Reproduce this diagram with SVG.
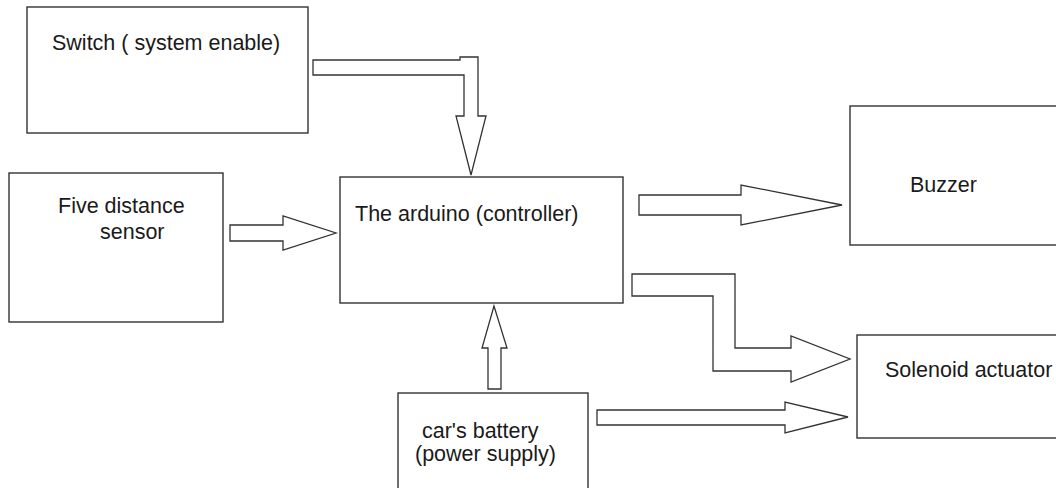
<svg xmlns="http://www.w3.org/2000/svg" width="1056" height="488" viewBox="0 0 1056 488">
<style>
.box{fill:#fff;stroke:#333;stroke-width:1.4}
.arr{fill:#fff;stroke:#333;stroke-width:1.3;stroke-linejoin:miter}
text{font-family:"Liberation Sans",Arial,sans-serif;font-size:21.5px;fill:#1a1a1a}
</style>
<rect width="1056" height="488" fill="#fff"/>
<g id="switch">
<rect class="box" x="27" y="7" width="281" height="126"/>
<text x="52" y="50">Switch ( system enable)</text>
</g>
<g id="sensor">
<rect class="box" x="9" y="173" width="214" height="149"/>
<text x="58" y="213">Five distance</text>
<text x="100" y="239">sensor</text>
</g>
<g id="arduino">
<rect class="box" x="340" y="177" width="283" height="126"/>
<text x="355" y="221">The arduino (controller)</text>
</g>
<g id="buzzer">
<rect class="box" x="850" y="106" width="220" height="139"/>
<text x="910" y="192">Buzzer</text>
</g>
<g id="solenoid">
<rect class="box" x="857" y="335" width="220" height="103"/>
<text x="885" y="377">Solenoid actuator</text>
</g>
<g id="battery">
<rect class="box" x="398" y="393" width="190" height="110"/>
<text x="422" y="438">car's battery</text>
<text x="415" y="461">(power supply)</text>
</g>
<g id="connectors">
<polygon class="arr" points="313,60 460,60 460,57 478,57 478,116 486,116 471,175 456,116 464,116 464,75 313,75"/>
<polygon class="arr" points="230,225 283,225 283,216 336,233 283,250 283,241 230,241"/>
<polygon class="arr" points="639,195 741,195 741,185 842,205 741,225 741,215 639,215"/>
<polygon class="arr" points="632,274 735,274 735,348 791,348 791,336 850,359 791,382 791,371 713,371 713,296 632,296"/>
<polygon class="arr" points="488,389 488,348 482,348 494,306 507,348 501,348 501,389"/>
<polygon class="arr" points="597,410 785,410 785,402 848,417 785,433 785,425 597,425"/>
</g>
</svg>
